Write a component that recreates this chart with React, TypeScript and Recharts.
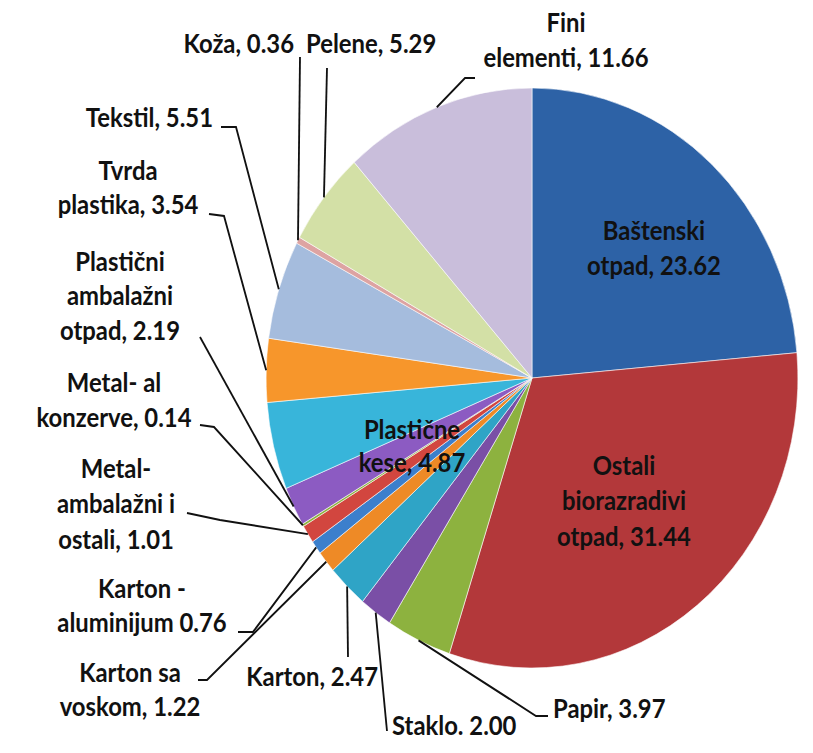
import { PieChart, Pie, Cell } from 'recharts';

// source values (percent), clockwise from 12 o'clock
const categories = [
  'Baštenski\notpad',
  'Ostali\nbiorazradivi\notpad',
  'Papir',
  'Staklo',
  'Karton',
  'Karton sa\nvoskom',
  'Karton -\naluminijum',
  'Metal-\nambalažni i\nostali',
  'Metal- al\nkonzerve',
  'Plastični\nambalažni\notpad',
  'Plastične\nkese',
  'Tvrda\nplastika',
  'Tekstil',
  'Koža',
  'Pelene',
  'Fini\nelementi',
];
const values = [23.62, 31.44, 3.97, 2.0, 2.47, 1.22, 0.76, 1.01, 0.14, 2.19, 4.87, 3.54, 5.51, 0.36, 5.29, 11.66];
const separators = [', ', ', ', ', ', '. ', ', ', ', ', ' ', ', ', ', ', ', ', ', ', ', ', ', ', ', ', ', ', ', '];

const COLORS = [
  '#2D62A6', '#B3383A', '#8DB23F', '#7A4FA6', '#2FA4C6', '#EE8A26',
  '#3C7FCC', '#D2463F', '#8DB23F', '#8C5BC2', '#38B5DA', '#F7962B',
  '#A5BCDD', '#DDA3A2', '#D3E0A6', '#C9BEDB',
];

const data = categories.map((name, i) => ({ name, value: values[i], sep: separators[i] }));

// picture is squeezed horizontally, so everything is drawn wider and scaled back
const S = 0.917;
const W = Math.round(813 / S);
const H = 753;
const RADIAN = Math.PI / 180;

// label placement in final (page) pixels
type Place = { x: number; y: number[]; anchor: 'start' | 'middle' | 'end'; leader?: number[][] };
const PLACES: Place[] = [
  { x: 654, y: [240, 275], anchor: 'middle' },
  { x: 624, y: [475, 510, 546], anchor: 'middle' },
  { x: 553, y: [718], anchor: 'start', leader: [[548, 716], [536, 716]] },
  { x: 392, y: [735], anchor: 'start', leader: [[387, 731]] },
  { x: 378, y: [686], anchor: 'end', leader: [[348, 657]] },
  { x: 130, y: [682, 716], anchor: 'middle', leader: [[198, 680], [207, 680]] },
  { x: 142, y: [598, 632], anchor: 'middle', leader: [[238, 632], [253, 632]] },
  { x: 116, y: [478, 513, 549], anchor: 'middle', leader: [[187, 513], [220, 520]] },
  { x: 114, y: [392, 427], anchor: 'middle', leader: [[200, 425], [214, 427]] },
  { x: 120, y: [271, 305, 340], anchor: 'middle', leader: [[200, 337]] },
  { x: 412, y: [439, 472], anchor: 'middle' },
  { x: 128, y: [180, 214], anchor: 'middle', leader: [[209, 214], [224, 216]] },
  { x: 213, y: [127], anchor: 'end', leader: [[221, 127], [236, 127]] },
  { x: 294, y: [53], anchor: 'end', leader: [[300, 57]] },
  { x: 306, y: [53], anchor: 'start', leader: [[327, 68]] },
  { x: 566, y: [32, 67], anchor: 'middle', leader: [[475, 78], [465, 78]] },
];

const renderLabel = (props: any) => {
  const { cx, cy, midAngle, outerRadius, index, payload } = props;
  const place = PLACES[index];
  const text = `${payload.name}${payload.sep}${payload.value.toFixed(2)}`.split('\n');
  const ax = cx + outerRadius * Math.cos(-midAngle * RADIAN);
  const ay = cy + outerRadius * Math.sin(-midAngle * RADIAN);
  const pts = place.leader
    ? [...place.leader.map(([x, y]) => `${x / S},${y}`), `${ax},${ay}`].join(' ')
    : null;
  return (
    <g key={`lbl-${index}`}>
      {pts && <polyline points={pts} fill="none" stroke="#111" strokeWidth={2} />}
      <text
        textAnchor={place.anchor}
        fill="#111"
        fontSize={26}
        fontWeight={700}
        fontFamily="Lato, 'Open Sans', sans-serif"
      >
        {text.map((line, k) => (
          <tspan key={k} x={place.x / S} y={place.y[k]}>
            {line}
          </tspan>
        ))}
      </text>
    </g>
  );
};

export default function App() {
  return (
    <div
      style={{
        position: 'absolute',
        left: 0,
        top: 0,
        width: W,
        height: H,
        background: '#fff',
        transform: `scaleX(${S})`,
        transformOrigin: '0 0',
      }}
    >
      <PieChart width={W} height={H} margin={{ top: 0, right: 0, bottom: 0, left: 0 }}>
        <Pie
          data={data}
          dataKey="value"
          nameKey="name"
          cx={532 / S}
          cy={378}
          outerRadius={290}
          startAngle={90}
          endAngle={-270}
          stroke="#ffffff"
          strokeWidth={0.6}
          label={renderLabel}
          labelLine={false}
          isAnimationActive={false}
        >
          {data.map((d, i) => (
            <Cell key={d.name} fill={COLORS[i]} />
          ))}
        </Pie>
      </PieChart>
    </div>
  );
}
